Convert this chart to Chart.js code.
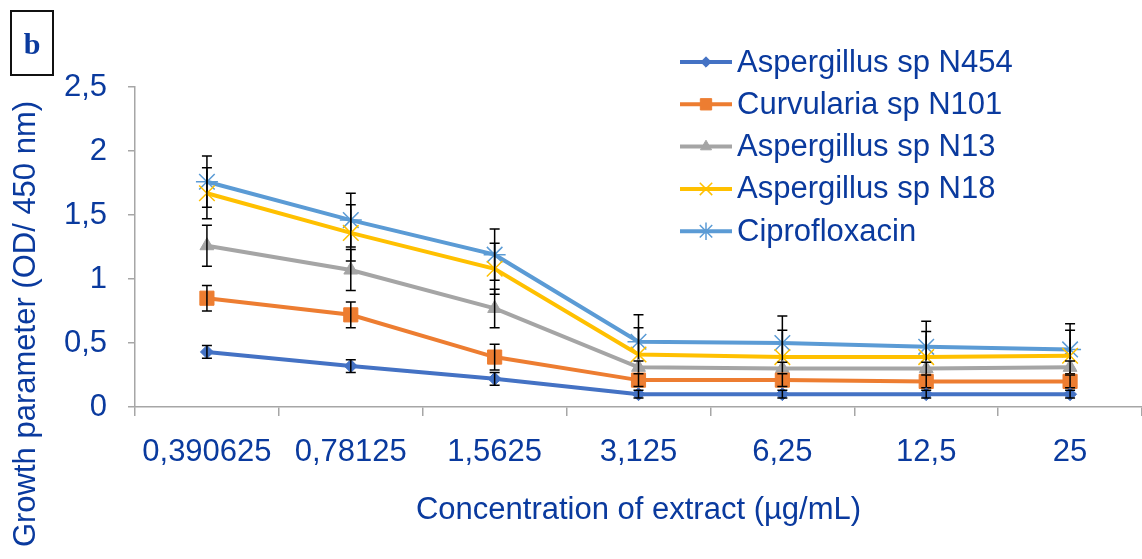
<!DOCTYPE html>
<html>
<head>
<meta charset="utf-8">
<script src="https://cdn.jsdelivr.net/npm/chart.js@4.4.1/dist/chart.umd.min.js"></script>
<style>
    body { margin: 0; background: #fff; }
    #wrap { position: relative; width: 1142px; height: 559px; }
    #panel {
        position: absolute; left: 10px; top: 10px; width: 40px; height: 62px;
        border: 2px solid #111; color: #0a3a9e; text-align: center;
        font: bold 30px "Liberation Serif", serif; line-height: 64px;
    }
</style>
</head>
<body>
<div id="wrap">
    <canvas id="myChart" width="1142" height="559"></canvas>
    <div id="panel">b</div>
</div>
<script>
    var concentrations = ['0,390625', '0,78125', '1,5625', '3,125', '6,25', '12,5', '25'];

    var n454 = [0.43, 0.32, 0.22, 0.10, 0.10, 0.10, 0.10];
    var n101 = [0.85, 0.72, 0.39, 0.21, 0.21, 0.20, 0.20];
    var n13 = [1.26, 1.07, 0.77, 0.31, 0.30, 0.30, 0.31];
    var n18 = [1.67, 1.36, 1.08, 0.41, 0.39, 0.39, 0.40];
    var cipro = [1.76, 1.46, 1.19, 0.51, 0.50, 0.47, 0.45];

    var n454Err = [0.05, 0.05, 0.05, 0.03, 0.03, 0.03, 0.03];
    var n101Err = [0.10, 0.10, 0.10, 0.05, 0.05, 0.05, 0.05];
    var n13Err = [0.16, 0.16, 0.15, 0.05, 0.05, 0.05, 0.05];
    var n18Err = [0.20, 0.22, 0.20, 0.21, 0.21, 0.20, 0.20];
    var ciproErr = [0.20, 0.21, 0.20, 0.21, 0.21, 0.20, 0.20];

    var yTitle = 'Growth parameter (OD/ 450 nm)';
    var xTitle = 'Concentration of extract (µg/mL)';

    var textBlue = '#0a3a9e';
    var axisGrey = '#a6a6a6';
    var fontFamily = '"Liberation Sans", Arial, sans-serif';

    Chart.defaults.font.family = fontFamily;
    Chart.defaults.font.size = 31;
    Chart.defaults.color = textBlue;

    function series(label, values, errors, color, style, radius, border) {
        return {
            label: label,
            data: values,
            errors: errors,
            borderColor: color,
            backgroundColor: color,
            borderWidth: 4,
            tension: 0,
            pointStyle: style,
            pointRadius: radius,
            pointHoverRadius: radius,
            pointBackgroundColor: color,
            pointBorderColor: color,
            pointBorderWidth: border
        };
    }

    // black error bars with caps, drawn right after each series
    var errorBars = {
        id: 'errorBars',
        afterDatasetDraw: function (chart, args) {
            var ds = chart.data.datasets[args.index];
            var y = chart.scales.y;
            var ctx = chart.ctx;
            ctx.save();
            ctx.strokeStyle = '#000';
            ctx.lineWidth = 1.5;
            args.meta.data.forEach(function (pt, i) {
                var top = y.getPixelForValue(ds.data[i] + ds.errors[i]);
                var bot = y.getPixelForValue(ds.data[i] - ds.errors[i]);
                ctx.beginPath();
                ctx.moveTo(pt.x, top); ctx.lineTo(pt.x, bot);
                ctx.moveTo(pt.x - 5, top); ctx.lineTo(pt.x + 5, top);
                ctx.moveTo(pt.x - 5, bot); ctx.lineTo(pt.x + 5, bot);
                ctx.stroke();
            });
            ctx.restore();
        }
    };

    // legend inside the plot (top right) and the rotated y title
    var extras = {
        id: 'extras',
        afterDraw: function (chart) {
            var ctx = chart.ctx;
            var x0 = 680, x1 = 732, top = 62, step = 42.3;
            ctx.save();
            ctx.font = '31px ' + fontFamily;
            ctx.textBaseline = 'middle';
            chart.data.datasets.forEach(function (ds, i) {
                var y = top + i * step;
                ctx.strokeStyle = ds.borderColor;
                ctx.lineWidth = 4;
                ctx.beginPath();
                ctx.moveTo(x0, y); ctx.lineTo(x1, y);
                ctx.stroke();
                ctx.fillStyle = ds.borderColor;
                ctx.lineWidth = ds.pointBorderWidth;
                Chart.helpers.drawPoint(ctx, {
                    pointStyle: ds.pointStyle,
                    radius: ds.pointRadius * 0.8,
                    rotation: 0,
                    borderWidth: ds.pointBorderWidth
                }, (x0 + x1) / 2, y);
                ctx.fillStyle = textBlue;
                ctx.fillText(ds.label, x1 + 5, y + 1);
            });

            ctx.translate(26, 324);
            ctx.rotate(-Math.PI / 2);
            ctx.textAlign = 'center';
            ctx.fillStyle = textBlue;
            ctx.fillText(yTitle, 0, 0);
            ctx.restore();
        }
    };

    var data = {
        labels: concentrations,
        datasets: [
            series('Aspergillus sp N454', n454, n454Err, '#4472C4', 'rectRot', 6.5, 1),
            series('Curvularia sp N101', n101, n101Err, '#ED7D31', 'rect', 10, 1),
            series('Aspergillus sp N13', n13, n13Err, '#A5A5A5', 'triangle', 8, 1),
            series('Aspergillus sp N18', n18, n18Err, '#FFC000', 'crossRot', 11, 1.5),
            series('Ciprofloxacin', cipro, ciproErr, '#5B9BD5', 'star', 11, 1.5)
        ]
    };

    var config = {
        type: 'line',
        data: data,
        options: {
            responsive: false,
            animation: false,
            layout: {
                autoPadding: false,
                padding: { left: 0, right: 0, top: 87, bottom: 0 }
            },
            plugins: {
                legend: { display: false },
                tooltip: { enabled: false }
            },
            scales: {
                x: {
                    offset: true,
                    afterFit: function (scale) {
                        scale.height = 152;
                        scale.paddingLeft = 0;
                        scale.paddingRight = 0;
                    },
                    grid: {
                        offset: true,
                        drawOnChartArea: false,
                        drawTicks: true,
                        tickLength: 9,
                        color: axisGrey,
                        lineWidth: 1.5
                    },
                    border: { color: axisGrey, width: 1.5 },
                    ticks: { padding: 18, maxRotation: 0, autoSkip: false },
                    title: {
                        display: true,
                        text: xTitle,
                        padding: { top: 0, bottom: 30 }
                    }
                },
                y: {
                    min: 0,
                    max: 2.5,
                    afterFit: function (scale) { scale.width = 135; },
                    grid: {
                        drawOnChartArea: false,
                        tickLength: 7,
                        color: axisGrey,
                        lineWidth: 1.5
                    },
                    border: { color: axisGrey, width: 1.5 },
                    ticks: {
                        stepSize: 0.5,
                        padding: 21,
                        callback: function (v) { return String(v).replace('.', ','); }
                    }
                }
            }
        },
        plugins: [errorBars, extras]
    };

    var myChart = new Chart(
        document.getElementById('myChart').getContext('2d'),
        config
    );
</script>
</body>
</html>
